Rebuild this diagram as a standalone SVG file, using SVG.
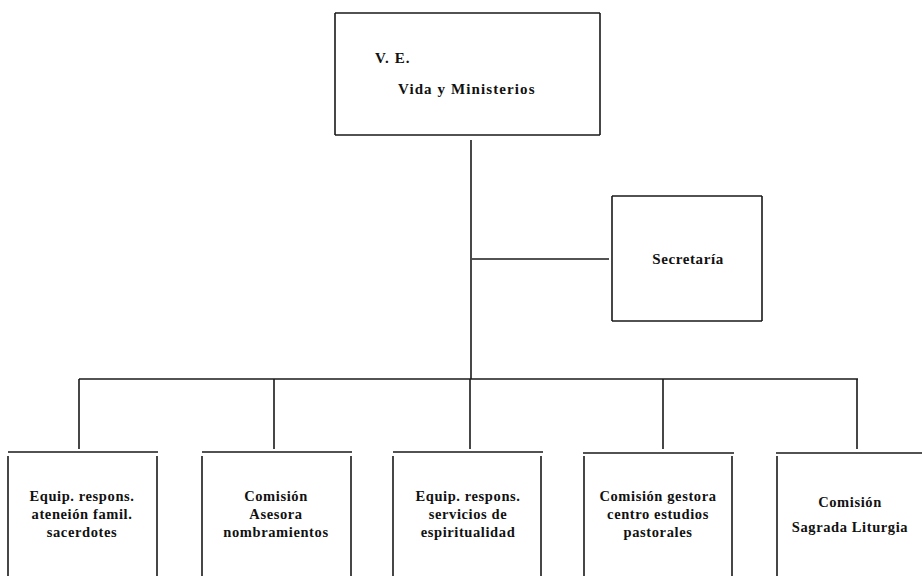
<svg xmlns="http://www.w3.org/2000/svg" width="922" height="576" viewBox="0 0 922 576">
<style>
.ln{stroke:#1a1a1a;stroke-width:1.6;fill:none}
.t{font-family:"Liberation Serif",serif;font-weight:bold;font-size:14.5px;fill:#111;letter-spacing:0.6px}
.big{font-size:15px;letter-spacing:1.1px}
.sec{font-size:15px;letter-spacing:0.6px}
.c{text-anchor:middle}
</style>
<rect width="922" height="576" fill="#fff"/>
<g id="connectors" class="ln">
<path d="M471 140V379"/>
<path d="M472 259H609"/>
<path d="M79 379H858"/>
<path d="M79 379V449M274 379V449M470 379V449M663 379V449M857 379V449"/>
</g>
<g id="ve">
<path class="ln" d="M335 13H600M335 13V135M600 13V135M335 135H600"/>
<text class="t big" x="375" y="63">V. E.</text>
<text class="t big" x="398" y="94">Vida y Ministerios</text>
</g>
<g id="secretaria">
<path class="ln" d="M612 196H762M612 196V321M762 196V321M612 321H762"/>
<text class="t sec c" x="688" y="264">Secretaría</text>
</g>
<g id="n1">
<path class="ln" d="M8 452H158M8 456V576M157 456V576"/>
<text class="t c" x="82" y="501">Equip. respons.</text>
<text class="t c" x="82" y="519">ateneión famil.</text>
<text class="t c" x="82" y="537">sacerdotes</text>
</g>
<g id="n2">
<path class="ln" d="M202 452H352M202 456V576M351 456V576"/>
<text class="t c" x="276" y="501">Comisión</text>
<text class="t c" x="276" y="519">Asesora</text>
<text class="t c" x="276" y="537">nombramientos</text>
</g>
<g id="n3">
<path class="ln" d="M393 452H543M393 456V576M541 456V576"/>
<text class="t c" x="468" y="501">Equip. respons.</text>
<text class="t c" x="468" y="519">servicios de</text>
<text class="t c" x="468" y="537">espiritualidad</text>
</g>
<g id="n4">
<path class="ln" d="M583 453H734M584 456V576M732 456V576"/>
<text class="t c" x="658" y="501">Comisión gestora</text>
<text class="t c" x="658" y="519">centro  estudios</text>
<text class="t c" x="658" y="537">pastorales</text>
</g>
<g id="n5">
<path class="ln" d="M776 453H922M777 456V576"/>
<text class="t c" x="850" y="507">Comisión</text>
<text class="t c" x="850" y="532">Sagrada Liturgia</text>
</g>
</svg>
